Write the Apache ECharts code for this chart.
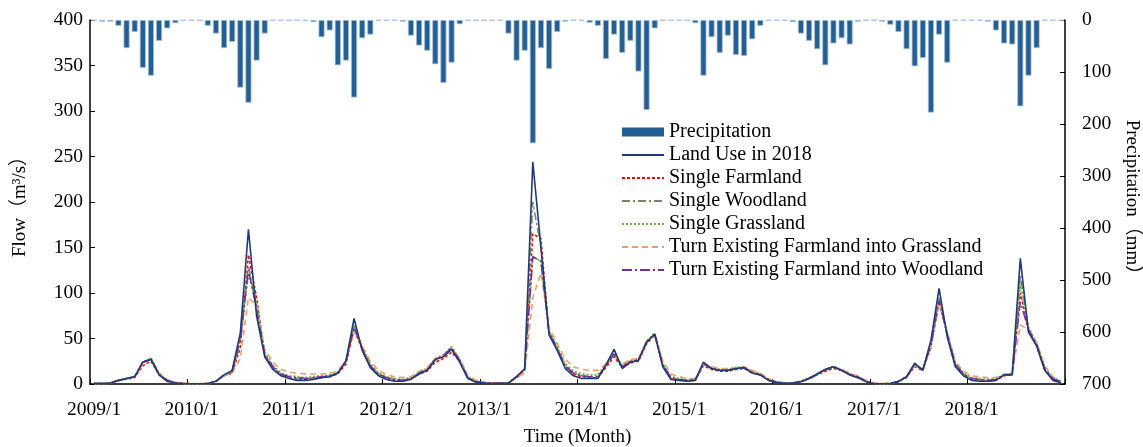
<!DOCTYPE html>
<html>
<head>
<meta charset="utf-8">
<script src="https://cdn.jsdelivr.net/npm/echarts@6/dist/echarts.min.js"></script>
<style>html,body{margin:0;padding:0;background:#fff;}#c{width:1143px;height:447px;}</style>
</head>
<body>
<div id="c"></div>
<script>
// ---- data ----
var years = ['2009','2010','2011','2012','2013','2014','2015','2016','2017','2018'];
var months = ['1','2','3','4','5','6','7','8','9','10','11','12'];
var precipitation = [1,3,3,11,54,23,92,107,40,16,6,1,
  1,1,11,26,54,42,130,159,78,26,1,1,
  1,1,1,4,33,20,87,78,149,35,28,1,
  1,1,3,30,49,59,85,121,82,8,1,1,
  1,1,1,26,78,59,237,54,94,23,3,1,
  1,5,11,75,28,63,40,99,173,16,1,1,
  1,1,6,107,33,63,30,67,69,37,11,1,
  1,1,4,26,40,56,87,45,35,47,3,1,
  1,3,9,23,56,89,73,178,28,82,1,1,
  1,1,3,20,45,47,166,107,54,1,1,1];
var landUse2018 = [0.5,0.5,1,4,6,8,24,27,10,3,1,0.5,
  0.3,0.3,0.5,3,10,15,56,170,75,30,16,9,
  6,4,4,5,7,8,12,25,72,37,18,9,
  5,3,3,5,11,15,27,30,38,24,6,2,
  1,0.5,0.5,1,8,17,244,150,54,37,17,9,
  6,6,6,21,38,17,24,26,46,55,19,5,
  4,3,4,24,17,15,15,17,18,12,10,4,
  1.5,0.7,0.7,2.6,6,11,16,19,15,10,7,2.6,
  0.3,0.3,0.5,2.6,8,23,15,48,105,52,19,9,
  4,3,3,4,10,10,138,57,42,15,4,1.5];
var singleFarmland = [0.5,0.5,1,3.5,5.5,7,20,25,10,3,1,0.5,
  0.3,0.3,0.5,3,9,12,40,142,95,32,17,10,
  7,5,5,6,7,8,11,22,60,38,19,10,
  6,4,4,6,11,14,24,28,35,25,7,3,
  1.5,1,1,1,7,15,165,160,55,38,19,11,
  8,7,7,18,30,18,23,25,44,54,20,6,
  4.5,3.5,4,20,16,14,14,16,17,12,10,4.5,
  1.5,0.8,0.8,2.5,5.5,10,14,17,15,10,7,3,
  0.5,0.3,0.5,2.5,7,19,15,40,90,55,21,10,
  5,4,3,4,9,10,100,60,42,16,5,2];
var singleWoodland = [0.5,0.5,1,4,6,8,23,28,11,4,1.5,0.5,
  0.3,0.3,0.5,3,10,14,50,130,85,33,19,11,
  8,6,6,7,8,9,12,25,65,40,21,11,
  7,5,4,6,12,16,27,31,40,26,7,3,
  1.5,1,1,1,8,16,200,150,58,40,20,12,
  9,8,8,20,33,19,25,26,46,55,21,7,
  5,4,5,22,17,15,15,17,18,13,10,5,
  2,1,1,3,6,11,16,19,15,11,8,3,
  0.5,0.3,0.5,3,8,21,16,44,95,55,22,11,
  6,5,4,5,10,11,120,60,44,17,6,2.5];
var singleGrassland = [0.5,0.5,1,4,6,8,24,28,11,4,1.5,0.5,
  0.3,0.3,0.5,3,10,14,50,122,88,34,20,12,
  9,8,7,8,9,10,13,26,63,40,22,12,
  8,6,5,7,13,17,28,32,41,27,8,3,
  1.5,1,1,1.5,8,16,140,135,58,41,22,14,
  11,10,10,21,34,20,26,27,47,56,22,8,
  6,4.5,5,22,18,16,16,18,19,14,11,5,
  2,1,1,3,6.5,11,16,19,16,11,8,3,
  0.5,0.3,0.5,3,8,21,16,44,95,56,23,12,
  7,6,5,6,10,11,110,62,45,18,7,3];
var farmToGrass = [0.5,0.5,1,3.5,6,8,22,27,12,5,2,0.5,
  0.3,0.3,0.5,3,9,12,28,95,86,38,24,16,
  13,12,11,11,11,12,14,26,58,42,25,15,
  10,8,7,8,14,18,28,32,40,28,9,4,
  2,1,1,1.5,7,12,95,122,62,45,27,19,
  16,15,15,22,32,22,27,28,46,55,25,11,
  8,6,6,21,19,17,17,18,19,15,12,6,
  2.5,1.5,1.2,3,6.5,11,16,19,16,12,9,4,
  0.8,0.5,0.8,3,8,20,16,40,88,58,25,14,
  9,8,7,7,11,11,65,60,46,20,8,3];
var farmToWood = [0.5,0.5,1,4,6,8,24,28,11,4,1.5,0.5,
  0.3,0.3,0.5,3,10,14,48,125,82,33,19,11,
  8,7,6,7,8,9,12,25,62,39,20,11,
  7,5,4,6,12,16,27,31,40,26,7,3,
  1.5,1,1,1,8,16,140,135,56,39,20,12,
  9,8,8,20,33,19,25,26,46,55,21,7,
  5,4,5,22,17,15,15,17,18,13,10,5,
  2,1,1,3,6,11,16,19,15,11,8,3,
  0.5,0.3,0.5,3,8,21,16,43,92,55,22,11,
  6,5,4,5,10,11,90,60,44,17,6,2.5];

var categories = [];
years.forEach(function (y) { months.forEach(function (m) { categories.push(y + '/' + m); }); });

var FONT = '"Liberation Serif", "Times New Roman", "Noto Sans CJK SC", serif';
var chart = echarts.init(document.getElementById('c'), null, {renderer: 'canvas'});

function lineSeries(name, data, color, type, width, z) {
  return {
    name: name, type: 'line', data: data, yAxisIndex: 0, symbol: 'none', z: z,
    lineStyle: {color: color, width: width, type: type, cap: 'butt'},
    itemStyle: {color: color}, animation: false
  };
}

var option = {
  animation: false,
  backgroundColor: '#fff',
  grid: {left: 90, right: 78, top: 20, bottom: 63, containLabel: false, outerBoundsMode: 'none'},
  legend: {
    orient: 'vertical', left: 621, top: 122, padding: 0, itemWidth: 42, itemHeight: 9, itemGap: 3,
    itemStyle: {opacity: 0},
    textStyle: {fontFamily: FONT, fontSize: 20, lineHeight: 20, color: '#000'},
    data: [
      {name: 'Precipitation', icon: 'rect', itemStyle: {color: '#255E91', borderWidth: 0, opacity: 1}},
      'Land Use in 2018', 'Single Farmland', 'Single Woodland', 'Single Grassland',
      'Turn Existing Farmland into Grassland', 'Turn Existing Farmland into Woodland'
    ]
  },
  xAxis: {
    type: 'category', data: categories, boundaryGap: true,
    name: 'Time (Month)', nameLocation: 'middle', nameGap: 44,
    nameTextStyle: {fontFamily: FONT, fontSize: 19, color: '#000'},
    axisLine: {lineStyle: {color: '#000', width: 1.5}},
    axisTick: {show: true, inside: true, length: 5, interval: 11, lineStyle: {color: '#000'}},
    axisLabel: {interval: 11, fontFamily: FONT, fontSize: 19.5, color: '#000', margin: 16},
    splitLine: {show: false}
  },
  yAxis: [
    {
      type: 'value', min: 0, max: 400, interval: 50, position: 'left',
      name: 'Flow（m³/s）', nameLocation: 'middle', nameGap: 60, nameRotate: 90,
      nameTextStyle: {fontFamily: FONT, fontSize: 19, color: '#000'},
      axisLine: {show: true, lineStyle: {color: '#000', width: 1.5}},
      axisTick: {show: true, inside: true, length: 5, lineStyle: {color: '#000'}},
      axisLabel: {fontFamily: FONT, fontSize: 19.5, color: '#000', margin: 7},
      splitLine: {show: false}
    },
    {
      type: 'value', min: 0, max: 700, interval: 100, inverse: true, position: 'right',
      name: 'Precipitation（mm）', nameLocation: 'middle', nameGap: 56, nameRotate: -90,
      nameTextStyle: {fontFamily: FONT, fontSize: 19, color: '#000'},
      axisLine: {show: true, lineStyle: {color: '#000', width: 1.5}},
      axisTick: {show: true, inside: true, length: 5, lineStyle: {color: '#000'}},
      axisLabel: {fontFamily: FONT, fontSize: 19.5, color: '#000', margin: 17},
      splitLine: {show: false}
    }
  ],
  series: [
    {
      name: 'Precipitation', type: 'bar', data: precipitation, yAxisIndex: 1, barWidth: 6, z: 1,
      itemStyle: {color: '#255E91', borderColor: '#9CBBDB', borderWidth: 0.8}
    },
    lineSeries('Land Use in 2018', landUse2018, '#1F3A7A', 'solid', 1.6, 8),
    lineSeries('Single Farmland', singleFarmland, '#FF0000', [3, 2], 1.5, 3),
    lineSeries('Single Woodland', singleWoodland, '#6E8B5E', [8, 3, 2, 3], 1.5, 4),
    lineSeries('Single Grassland', singleGrassland, '#70AD47', [2, 2], 2, 5),
    lineSeries('Turn Existing Farmland into Grassland', farmToGrass, '#E8A070', [6, 4], 1.6, 6),
    lineSeries('Turn Existing Farmland into Woodland', farmToWood, '#7030A0', [10, 3, 2, 3], 1.5, 7)
  ]
};
chart.setOption(option);
</script>
</body>
</html>
